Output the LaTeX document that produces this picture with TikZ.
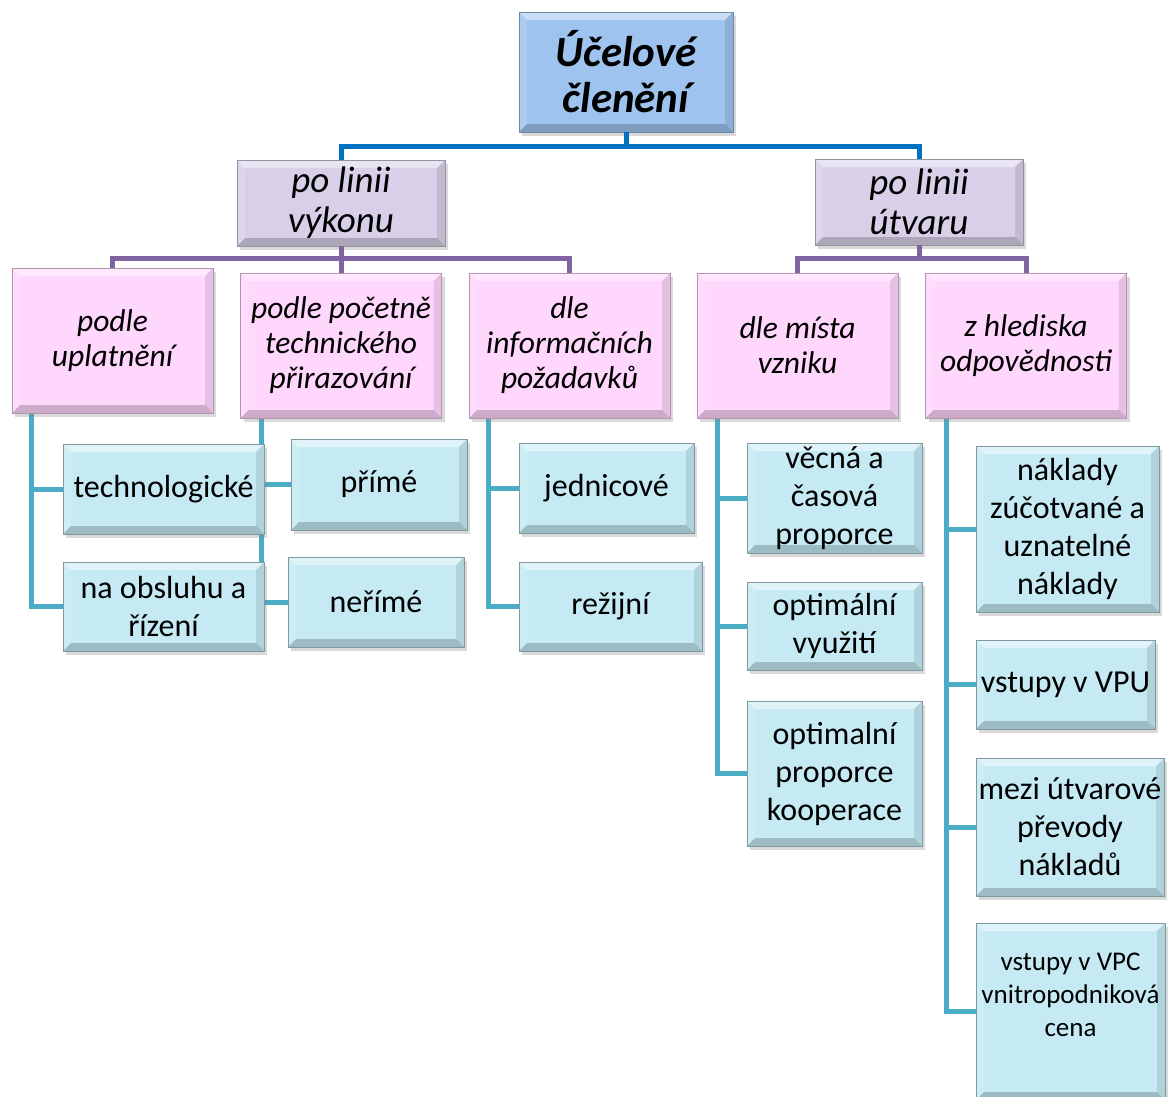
\documentclass[tikz,border=0pt]{standalone}
\usepackage{fontspec}
\setmainfont{Carlito}
\usepackage{tikz}
\usetikzlibrary{positioning}
\usetikzlibrary{shadows,backgrounds}
\definecolor{rootblue}{RGB}{157,195,238}
\definecolor{lineviolet}{RGB}{216,208,232}
\definecolor{grouppink}{RGB}{255,214,252}
\definecolor{itemcyan}{RGB}{197,234,244}
\definecolor{linkblue}{RGB}{0,112,192}
\definecolor{linkviolet}{RGB}{128,100,162}
\definecolor{linkteal}{RGB}{75,172,198}
\tikzset{
  bevel/.style={path picture={
    \fill[white,opacity=0.45] (path picture bounding box.north west) -- (path picture bounding box.north east)
      -- ([xshift=-8pt,yshift=-8pt]path picture bounding box.north east) -- ([xshift=8pt,yshift=-8pt]path picture bounding box.north west) -- cycle;
    \fill[white,opacity=0.15] (path picture bounding box.north west) -- ([xshift=8pt,yshift=-8pt]path picture bounding box.north west)
      -- ([xshift=8pt,yshift=8pt]path picture bounding box.south west) -- (path picture bounding box.south west) -- cycle;
    \fill[black,opacity=0.10] (path picture bounding box.north east) -- ([xshift=-8pt,yshift=-8pt]path picture bounding box.north east)
      -- ([xshift=-8pt,yshift=8pt]path picture bounding box.south east) -- (path picture bounding box.south east) -- cycle;
    \fill[black,opacity=0.20] (path picture bounding box.south west) -- ([xshift=8pt,yshift=8pt]path picture bounding box.south west)
      -- ([xshift=-8pt,yshift=8pt]path picture bounding box.south east) -- (path picture bounding box.south east) -- cycle;
  }},
  main box/.style={rectangle,align=center,inner sep=2pt,bevel,
    drop shadow={shadow xshift=3pt,shadow yshift=-4pt,opacity=0.3}},
  root box/.style={main box,fill=rootblue,draw=rootblue!70!black,
    font=\fontsize{43}{46}\selectfont\bfseries\itshape},
  line box/.style={main box,fill=lineviolet,draw=lineviolet!70!black,
    minimum width=208pt,minimum height=86pt,font=\fontsize{37}{40}\selectfont\itshape},
  group box/.style={main box,fill=grouppink,draw=grouppink!70!black,
    minimum width=201pt,minimum height=145pt,font=\fontsize{31.5}{35}\selectfont\itshape},
  item box/.style={main box,fill=itemcyan,draw=itemcyan!65!black,
    font=\fontsize{32}{38}\selectfont},
  link/.style={line width=5pt}
}

\begin{document}
\begin{tikzpicture}[x=1pt, y=-1pt]
    \useasboundingbox (0,0) rectangle (1174,1096);

    \node[root box, minimum width=214pt, minimum height=120pt] (root) at (626,72) {Účelové\\členění};

    \node[line box] (vykon) at (341,203) {po linii\\výkonu};
    \node[line box] (utvar) at (919,202) {po linii\\útvaru};

    \node[group box] (uplat) at (112.5,340.5) {podle\\uplatnění};
    \node[group box] (pocet) at (341,345.5) {podle početně\\technického\\přirazování};
    \node[group box] (inform) at (569.5,345.5) {dle\\informačních\\požadavků};
    \node[group box] (misto) at (797.5,345.5) {dle místa\\vzniku};
    \node[group box] (hledisko) at (1026,345.5) {z hlediska\\odpovědnosti};

    % spojnice
    \draw[link, linkblue] (root.south) -- ++(0,14) -| (vykon.north);
    \draw[link, linkblue] (root.south) -- ++(0,14) -| (utvar.north);
    \draw[link, linkviolet] (vykon.south) -- ++(0,12) -| (uplat.north);
    \draw[link, linkviolet] (vykon.south) -- ++(0,12) -| (pocet.north);
    \draw[link, linkviolet] (vykon.south) -- ++(0,12) -| (inform.north);
    \draw[link, linkviolet] (utvar.south) -- ++(0,13) -| (misto.north);
    \draw[link, linkviolet] (utvar.south) -- ++(0,13) -| (hledisko.north);

    \coordinate (uplat r) at ([xshift=20pt]uplat.south west);
    \coordinate (pocet r) at ([xshift=21pt]pocet.south west);
    \coordinate (inform r) at ([xshift=20pt]inform.south west);
    \coordinate (misto r) at ([xshift=21pt]misto.south west);
    \coordinate (hledisko r) at ([xshift=21pt]hledisko.south west);

    \node[item box, minimum width=201pt, minimum height=90pt] (techno) at (163.5,489) {technologické};
    \node[item box, minimum width=201pt, minimum height=89pt] (obsluha) at (163.5,606.5) {na obsluhu a\\řízení};
    \node[item box, minimum width=176pt, minimum height=91pt] (prime) at (379,484.5) {přímé};
    \node[item box, minimum width=176pt, minimum height=90pt] (neprime) at (376,602) {neřímé};
    \node[item box, minimum width=175pt, minimum height=90pt] (jednic) at (606.5,488) {jednicové};
    \node[item box, minimum width=183pt, minimum height=89pt] (rezie) at (610.5,606.5) {režijní};
    \node[item box, minimum width=175pt, minimum height=110pt] (vecna) at (834.5,498) {věcná a\\časová\\proporce};
    \node[item box, minimum width=175pt, minimum height=88pt] (vyuziti) at (834.5,626) {optimální\\využití};
    \node[item box, minimum width=175pt, minimum height=145pt] (koop) at (834.5,773.5) {optimalní\\proporce\\kooperace};
    \node[item box, minimum width=183pt, minimum height=166pt] (naklady) at (1067.5,529) {náklady\\zúčotvané a\\uznatelné\\náklady};
    \node[item box, minimum width=179pt, minimum height=89pt] (vpu) at (1065.5,684.5) {vstupy v VPU};
    \node[item box, minimum width=188pt, minimum height=138pt] (prevody) at (1070,827) {mezi útvarové\\převody\\nákladů};
    \node[item box, minimum width=189pt, minimum height=177pt, font=\fontsize{27}{33}\selectfont] (vpc) at (1070.5,1011.5) {vstupy v VPC\\vnitropodniková\\cena\\\mbox{}};

    \begin{scope}[on background layer]
    \draw[link, linkteal] (uplat r) |- (techno.west);
    \draw[link, linkteal] (uplat r) |- (obsluha.west);
    \draw[link, linkteal] (pocet r) |- (prime.west);
    \draw[link, linkteal] (pocet r) |- (neprime.west);
    \draw[link, linkteal] (inform r) |- (jednic.west);
    \draw[link, linkteal] (inform r) |- (rezie.west);
    \draw[link, linkteal] (misto r) |- (vecna.west);
    \draw[link, linkteal] (misto r) |- (vyuziti.west);
    \draw[link, linkteal] (misto r) |- (koop.west);
    \draw[link, linkteal] (hledisko r) |- (naklady.west);
    \draw[link, linkteal] (hledisko r) |- (vpu.west);
    \draw[link, linkteal] (hledisko r) |- (prevody.west);
    \draw[link, linkteal] (hledisko r) |- (vpc.west);
    \end{scope}
\end{tikzpicture}
\end{document}
